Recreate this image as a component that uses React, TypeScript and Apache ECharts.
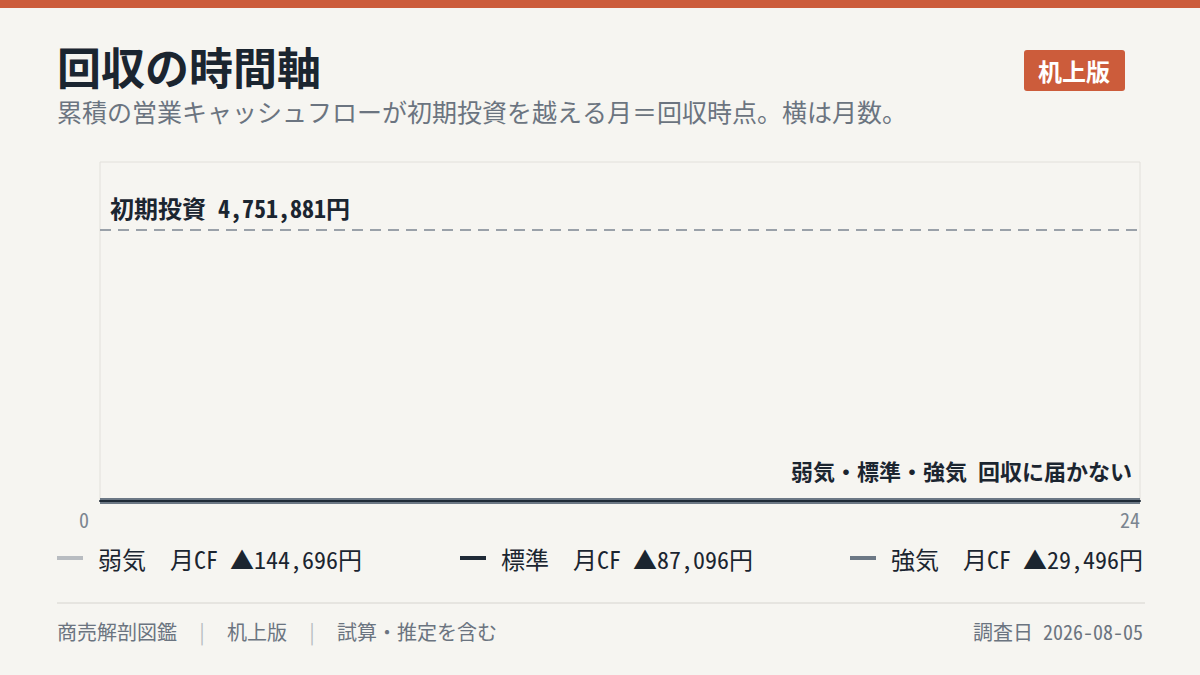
import React, { useEffect, useRef } from "react";
import * as echarts from "echarts";

// 横軸：月数（0〜24）
const months = [0, 1, 2, 3, 4, 5, 6, 7, 8, 9, 10, 11, 12, 13, 14, 15, 16, 17, 18, 19, 20, 21, 22, 23, 24];

// シナリオ名と月CF（マイナス＝▲）
const scenarioNames = ["弱気", "標準", "強気"];
const monthlyCf = [-144696, -87096, -29496];

// 表示上の累積CF（0未満は0で表示）
const weakCumulative = [0, 0, 0, 0, 0, 0, 0, 0, 0, 0, 0, 0, 0, 0, 0, 0, 0, 0, 0, 0, 0, 0, 0, 0, 0];
const baseCumulative = [0, 0, 0, 0, 0, 0, 0, 0, 0, 0, 0, 0, 0, 0, 0, 0, 0, 0, 0, 0, 0, 0, 0, 0, 0];
const strongCumulative = [0, 0, 0, 0, 0, 0, 0, 0, 0, 0, 0, 0, 0, 0, 0, 0, 0, 0, 0, 0, 0, 0, 0, 0, 0];

const initialInvestment = 4751881;
const yMax = 5940000;

const FONT = '"Noto Sans Mono CJK JP", "Noto Sans CJK JP", sans-serif';
const ACCENT = "#cc5c3b";
const INK = "#1b2530";
const MUTED = "#6b7480";
const lineColors = ["#b8bcc1", "#1f2a37", "#6c7885"];

const fmt = (v: number) => Math.abs(v).toLocaleString("en-US");

const App: React.FC = () => {
  const chartRef = useRef<HTMLDivElement>(null);

  useEffect(() => {
    document.body.style.margin = "0";
    if (!chartRef.current) return;
    const chart = echarts.init(chartRef.current, undefined, { renderer: "svg" });

    const cumulative = [weakCumulative, baseCumulative, strongCumulative];
    const legendLefts = [57, 460, 850];

    const option = {
      animation: false,
      backgroundColor: "#f6f5f1",
      textStyle: { fontFamily: FONT },
      grid: {
        left: 100,
        right: 60,
        top: 162,
        bottom: 174,
        show: true,
        borderColor: "#e2e0db",
        borderWidth: 1,
        backgroundColor: "transparent",
      },
      xAxis: {
        type: "value",
        min: 0,
        max: 24,
        interval: 24,
        z: 5,
        splitLine: { show: false },
        axisTick: { show: false },
        axisLine: { show: true, lineStyle: { color: "#1f2a37", width: 2 } },
        axisLabel: {
          margin: 8,
          color: "#7b8590",
          fontSize: 20,
          fontFamily: FONT,
          formatter: (v: number) => (v === 0 ? "{l|0}" : "{r|" + v + "}"),
          rich: {
            l: { padding: [0, 11, 0, 0], fontSize: 20, color: "#7b8590", fontFamily: FONT },
            r: { padding: [0, 0, 0, 0], fontSize: 20, color: "#7b8590", fontFamily: FONT },
          },
          alignMinLabel: "right",
          alignMaxLabel: "right",
        },
      },
      yAxis: {
        type: "value",
        min: 0,
        max: yMax,
        show: false,
        splitLine: { show: false },
      },
      legend: scenarioNames.map((name, i) => ({
        left: legendLefts[i],
        top: 546,
        padding: 0,
        data: [name],
        icon: "rect",
        itemWidth: 26,
        itemHeight: 4,
        selectedMode: false,
        formatter: () => `${name}　月CF ▲${fmt(monthlyCf[i])}円`,
        textStyle: {
          fontSize: 24,
          color: INK,
          fontFamily: FONT,
          padding: [0, 0, 0, 10],
        },
      })),
      series: scenarioNames.map((name, i) => ({
        name,
        type: "line",
        data: months.map((m, j) => [m, cumulative[i][j]]),
        showSymbol: false,
        clip: true,
        color: lineColors[i],
        lineStyle: { color: lineColors[i], width: 6 },
        markLine:
          i === 0
            ? {
                silent: true,
                symbol: "none",
                lineStyle: { color: "#9aa1a9", width: 2, type: [11, 7] },
                label: {
                  show: true,
                  position: "insideStartTop",
                  distance: 10,
                  formatter: `初期投資 ${fmt(initialInvestment)}円`,
                  fontSize: 24,
                  fontWeight: "bold",
                  color: INK,
                  fontFamily: FONT,
                },
                data: [{ yAxis: initialInvestment }],
              }
            : undefined,
      })),
      graphic: [
        { type: "rect", left: 0, top: 0, shape: { width: 1200, height: 8 }, style: { fill: ACCENT } },
        {
          type: "text",
          left: 57,
          top: 44,
          style: { text: "回収の時間軸", font: `bold 44px ${FONT}`, fill: INK },
        },
        {
          type: "text",
          left: 57,
          top: 98,
          style: {
            text: "累積の営業キャッシュフローが初期投資を越える月＝回収時点。横は月数。",
            font: `25px ${FONT}`,
            fill: MUTED,
          },
        },
        {
          type: "rect",
          left: 1024,
          top: 50,
          shape: { width: 101, height: 41, r: 3 },
          style: { fill: ACCENT },
        },
        {
          type: "text",
          left: 1038,
          top: 58,
          style: { text: "机上版", font: `bold 24px ${FONT}`, fill: "#ffffff" },
        },
        {
          type: "text",
          right: 68,
          top: 459,
          style: {
            text: "弱気・標準・強気 回収に届かない",
            font: `bold 22px ${FONT}`,
            fill: INK,
            align: "right",
          },
        },
        {
          type: "line",
          shape: { x1: 57, y1: 603, x2: 1145, y2: 603 },
          style: { stroke: "#d6d4cf", lineWidth: 1 },
        },
        {
          type: "text",
          left: 57,
          top: 621,
          style: {
            text: "{a|商売解剖図鑑}{s|　|　}{a|机上版}{s|　|　}{a|試算・推定を含む}",
            font: `20px ${FONT}`,
            fill: MUTED,
            rich: {
              a: { fontSize: 20, fontFamily: FONT, fill: MUTED },
              s: { fontSize: 20, fontFamily: FONT, fill: "#b8bcc1" },
            },
          },
        },
        {
          type: "text",
          right: 57,
          top: 621,
          style: { text: "調査日 2026-08-05", font: `20px ${FONT}`, fill: MUTED, align: "right" },
        },
      ],
    };

    chart.setOption(option as any);
    return () => {
      chart.dispose();
    };
  }, []);

  return <div ref={chartRef} style={{ width: 1200, height: 675 }} />;
};

export default App;
